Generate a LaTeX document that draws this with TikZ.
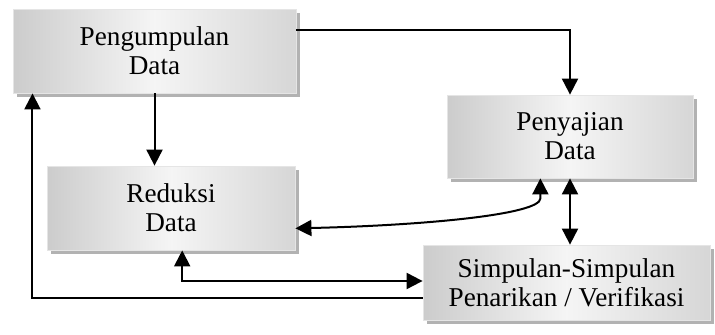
\documentclass[tikz,border=0pt]{standalone}
\usepackage{fontspec}
\setmainfont{Liberation Serif}
\usetikzlibrary{arrows.meta,calc,positioning,shadows}

\tikzset{
  box/.style={rectangle, draw=gray!20, line width=0.4pt,
    left color=gray!40, right color=gray!32, middle color=gray!8,
    drop shadow={shadow xshift=2pt, shadow yshift=-2pt, fill=gray!60, opacity=1},
    align=center, inner sep=0pt, font=\fontsize{13.6}{14.5}\selectfont},
  arr/.style={line width=1pt, -{Triangle[length=8pt,width=8pt]}},
  biarr/.style={line width=1pt, {Triangle[length=8pt,width=8pt]}-{Triangle[length=8pt,width=8pt]}},
}

\begin{document}
\begin{tikzpicture}[x=0.5pt,y=-0.5pt]
\useasboundingbox (0,0) rectangle (715,334);

\node[box, minimum width=141.5pt, minimum height=42pt] (kumpul) at (154.5,51) {Pengumpulan\\Data};
\node[box, minimum width=123pt, minimum height=41.5pt] (saji) at (570,136.5) {Penyajian\\Data};
\node[box, minimum width=124pt, minimum height=42pt] (reduksi) at (171,208) {Reduksi\\Data};
\node[box, minimum width=143.5pt, minimum height=37.5pt] (simpul) at (566.5,282.5) {Simpulan-Simpulan\\Penarikan / Verifikasi};

\coordinate (kumpulOut) at ($(kumpul.north east)!0.25!(kumpul.south east)$);
\coordinate (kumpulIn) at ($(kumpul.south west)!0.07!(kumpul.south east)$);
\coordinate (simpulOut) at ($(simpul.north west)!0.71!(simpul.south west)$);
\coordinate (simpulIn) at ($(simpul.north west)!0.48!(simpul.south west)$);
\coordinate (reduksiBot) at ($(reduksi.south west)!0.545!(reduksi.south east)$);
\coordinate (reduksiSide) at ($(reduksi.north east)!0.74!(reduksi.south east)$);
\coordinate (sajiBot) at ($(saji.south west)!0.38!(saji.south east)$);
\coordinate (bend) at ($(sajiBot) + (0,20)$);

\draw[arr] (kumpulOut) -| (saji.north);
\draw[arr] (kumpul.south) -- (kumpul.south |- reduksi.north);
\draw[arr] (simpulOut) -| (kumpulIn);
\draw[biarr] (reduksiBot) |- (simpulIn);
\draw[biarr] (reduksiSide) .. controls +(130,-3) and +(0,16) .. (bend) -- (sajiBot);
\draw[biarr] (saji.south) -- (saji.south |- simpul.north);
\end{tikzpicture}
\end{document}
